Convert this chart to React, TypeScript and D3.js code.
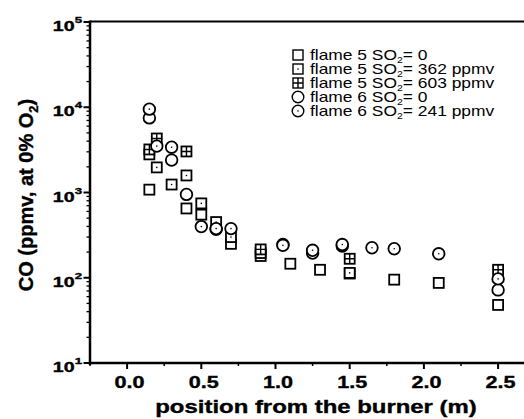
import React from "react";
import * as d3 from "d3";

const f5s0X = [0.15, 0.4, 0.5, 0.7, 0.9, 1.1, 1.3, 1.5, 1.8, 2.1, 2.5];
const f5s0Y = [1080, 650, 550, 250, 180, 146, 124, 112, 95, 87, 48];
const f5s362X = [0.15, 0.2, 0.3, 0.4, 0.5, 0.6, 0.7, 0.9, 1.5];
const f5s362Y = [2800, 1970, 1240, 1585, 745, 450, 300, 195, 114];
const f5s603X = [0.15, 0.2, 0.4, 0.9, 1.5, 2.5];
const f5s603Y = [3200, 4300, 3030, 215, 167, 124];
const f6s0X = [0.15, 0.3, 0.4, 0.6, 1.05, 1.25, 1.45, 2.5];
const f6s0Y = [7500, 2400, 950, 370, 245, 195, 235, 72];
const f6s241X = [0.15, 0.2, 0.3, 0.5, 0.6, 0.7, 1.05, 1.25, 1.45, 1.65, 1.8, 2.1, 2.5];
const f6s241Y = [9500, 3500, 3400, 398, 377, 377, 240, 210, 245, 225, 219, 191, 97];

const xTicks = [0, 0.5, 1.0, 1.5, 2.0, 2.5];
const xMinor = [-0.25, 0.25, 0.75, 1.25, 1.75, 2.25];
const yExps = [1, 2, 3, 4, 5];
const legendLabels = [
  { pre: "flame 5 SO", post: "= 0" },
  { pre: "flame 5 SO", post: "= 362 ppmv" },
  { pre: "flame 5 SO", post: "= 603 ppmv" },
  { pre: "flame 6 SO", post: "= 0" },
  { pre: "flame 6 SO", post: "= 241 ppmv" },
];
const seriesKinds = ["square", "squareDot", "squarePlus", "circle", "circleDot"];

const W = 524, H = 419;
const x = d3.scaleLinear().domain([-0.25, 2.75]).range([90, 90 + 3 * 148.4]);
const y = d3.scaleLog().domain([10, 1e5]).range([363, 22]);

function Marker({ kind, cx, cy, sw = 1.8 }: { kind: string; cx: number; cy: number; sw?: number }) {
  const s = 10, r = 5.8;
  if (kind.startsWith("square")) {
    return (
      <g>
        <rect x={cx - s / 2} y={cy - s / 2} width={s} height={s} fill="white" stroke="black" strokeWidth={sw} />
        {kind === "squareDot" && <circle cx={cx} cy={cy} r={0.8} fill="black" />}
        {kind === "squarePlus" && (
          <path d={`M${cx - s / 2},${cy}H${cx + s / 2}M${cx},${cy - s / 2}V${cy + s / 2}`} stroke="black" strokeWidth={1.4} />
        )}
      </g>
    );
  }
  return (
    <g>
      <circle cx={cx} cy={cy} r={r} fill="white" stroke="black" strokeWidth={sw} />
      {kind === "circleDot" && <circle cx={cx} cy={cy} r={0.8} fill="black" />}
    </g>
  );
}

export default function App() {
  const series = [
    { kind: "square", xs: f5s0X, ys: f5s0Y },
    { kind: "squareDot", xs: f5s362X, ys: f5s362Y },
    { kind: "squarePlus", xs: f5s603X, ys: f5s603Y },
    { kind: "circle", xs: f6s0X, ys: f6s0Y },
    { kind: "circleDot", xs: f6s241X, ys: f6s241Y },
  ];
  const minorY: number[] = [];
  for (let e = 1; e < 5; e++) for (let k = 2; k <= 9; k++) minorY.push(k * Math.pow(10, e));
  const font = "Liberation Sans, Arial, sans-serif";
  const heavy = { stroke: "black", strokeWidth: 0.35 };
  return (
    <svg width={W} height={H} style={{ position: "absolute", left: 0, top: 0 }} fontFamily={font}>
      <rect width={W} height={H} fill="white" />
      {/* frame lines */}
      <line x1={90} x2={W + 5} y1={21.5} y2={21.5} stroke="black" strokeWidth={2.2} />
      <line x1={88.8} x2={W + 5} y1={363} y2={363} stroke="black" strokeWidth={2.5} />
      <line x1={90} x2={90} y1={20.5} y2={365} stroke="black" strokeWidth={2.5} />
      {/* y ticks */}
      {yExps.map((e) => (
        <line key={"ym" + e} x1={83.5} x2={90} y1={y(Math.pow(10, e))} y2={y(Math.pow(10, e))} stroke="black" strokeWidth={2} />
      ))}
      {minorY.map((v, i) => (
        <line key={"yn" + i} x1={86.5} x2={90} y1={y(v)} y2={y(v)} stroke="black" strokeWidth={1.3} />
      ))}
      {yExps.map((e) => (
        <g key={"yl" + e} transform={`translate(82,${y(Math.pow(10, e))}) scale(1.4,1)`}>
          <text x={-5.3} y={9} textAnchor="end" fontSize={14} fontWeight="bold" {...heavy}>10</text>
          <text x={-5.1} y={1} textAnchor="start" fontSize={9.5} fontWeight="bold" {...heavy}>{e}</text>
        </g>
      ))}
      {/* x ticks */}
      {xTicks.map((v) => (
        <line key={"xm" + v} x1={x(v)} x2={x(v)} y1={363} y2={369} stroke="black" strokeWidth={2} />
      ))}
      {xMinor.map((v) => (
        <line key={"xn" + v} x1={x(v)} x2={x(v)} y1={363} y2={366} stroke="black" strokeWidth={1.5} />
      ))}
      {xTicks.map((v) => (
        <g key={"xl" + v} transform={`translate(${x(v) + 2.5},388) scale(1.35,1)`}>
          <text x={0} y={0} textAnchor="middle" fontSize={16} fontWeight="bold" {...heavy}>{v.toFixed(1)}</text>
        </g>
      ))}
      {/* axis titles */}
      <g transform="translate(316,413) scale(1.33,1)">
        <text textAnchor="middle" fontSize={18} fontWeight="bold" {...heavy}>position from the burner (m)</text>
      </g>
      <g transform="translate(33,195) rotate(-90)">
        <text textAnchor="middle" fontSize={20} fontWeight="bold" {...heavy}>
          CO (ppmv, at 0% O<tspan fontSize={13} dy={5}>2</tspan><tspan dy={-5}>)</tspan>
        </text>
      </g>
      {/* data */}
      {series.map((s) =>
        s.xs.map((xv, i) => <Marker key={s.kind + i} kind={s.kind} cx={x(xv)} cy={y(s.ys[i])} />)
      )}
      {/* legend */}
      {legendLabels.map((l, i) => {
        const ly = 55 + i * 14;
        return (
          <g key={"lg" + i}>
            <Marker kind={seriesKinds[i]} cx={298} cy={ly} sw={1.4} />
            <g transform={`translate(310,${ly + 5}) scale(1.16,1)`}>
              <text fontSize={15}>
                {l.pre}
                <tspan fontSize={9} dy={3}>2</tspan>
                <tspan dy={-3}>{l.post}</tspan>
              </text>
            </g>
          </g>
        );
      })}
    </svg>
  );
}
